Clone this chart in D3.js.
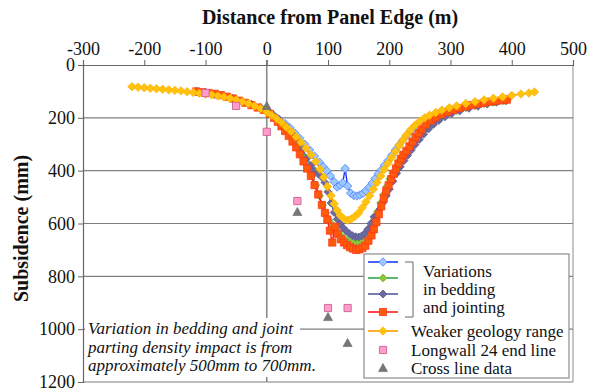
<!DOCTYPE html>
<html>
<head>
<meta charset="utf-8">
<script src="https://cdn.jsdelivr.net/npm/d3@7"></script>
<style>
  body { margin: 0; background: #fff; }
  text { font-family: "Liberation Serif", "Times New Roman", serif; fill: #111; }
</style>
</head>
<body>
<svg id="chart" width="598" height="388"></svg>
<script>
// ---- data (x = distance from panel edge m, y = subsidence mm) ----
const xTicks = [-300, -200, -100, 0, 100, 200, 300, 400, 500];
const yTicks = [0, 200, 400, 600, 800, 1000, 1200];

const blueSeries = [[-115,100],[-100,106],[-85,112],[-70,120],[-55,129],[-40,139],[-25,150],[-10,163],[0,172],[10,188],[20,205],[30,222],[38,238],[46,258],[54,278],[62,300],[70,322],[78,345],[86,368],[92,385],[98,400],[104,420],[110,442],[115,462],[120,455],[124,446],[128,392],[132,458],[137,485],[142,494],[147,496],[152,492],[157,486],[162,476],[167,463],[172,447],[177,430],[182,412],[187,397],[192,380],[198,362],[204,342],[210,322],[216,303],[222,285],[228,268],[235,250],[242,233],[250,217],[258,204],[266,193],[276,183],[286,174],[298,166],[310,159],[325,151],[340,145],[355,140],[370,136],[385,132],[392,130]];

const greenSeries = [[-115,100],[-100,105],[-85,110],[-70,118],[-55,127],[-40,137],[-25,149],[-10,162],[0,173],[10,190],[20,212],[30,240],[40,272],[50,310],[58,345],[66,382],[74,420],[80,455],[86,495],[91,530],[96,562],[101,585],[106,602],[111,617],[116,631],[121,645],[126,656],[131,664],[136,669],[141,672],[146,673],[151,670],[156,664],[161,652],[166,635],[171,612],[176,585],[181,555],[186,522],[191,490],[196,460],[201,432],[206,408],[211,386],[216,365],[221,348],[227,330],[233,312],[239,295],[245,278],[252,260],[260,240],[268,222],[277,206],[287,193],[298,182],[310,172],[325,162],[340,154],[355,147],[370,141],[385,136],[392,134]];

const slateSeries = [[-115,100],[-100,105],[-85,110],[-70,118],[-55,127],[-40,137],[-25,149],[-10,161],[0,172],[10,188],[20,207],[30,230],[40,257],[50,288],[58,318],[66,352],[72,380],[78,400],[84,412],[90,425],[95,445],[100,480],[105,522],[110,558],[115,584],[120,602],[125,617],[130,629],[135,639],[140,646],[145,650],[150,651],[155,647],[160,638],[165,622],[170,600],[175,575],[180,570],[185,545],[190,520],[195,495],[200,470],[206,440],[212,410],[218,385],[224,362],[230,342],[236,322],[242,302],[249,282],[256,262],[264,242],[272,225],[281,210],[291,196],[302,184],[315,174],[330,164],[345,156],[360,148],[375,141],[390,135]];

const redSeries = [[-115,100],[-105,103],[-95,106],[-85,109],[-75,114],[-65,120],[-55,127],[-45,135],[-35,143],[-25,152],[-15,161],[-5,170],[5,185],[12,200],[18,215],[24,232],[30,250],[36,268],[42,290],[48,312],[54,338],[60,365],[66,392],[72,420],[78,455],[84,490],[90,530],[95,560],[99,585],[103,627],[107,672],[111,612],[116,640],[121,660],[126,672],[131,682],[136,690],[141,695],[146,700],[151,698],[156,693],[161,684],[166,665],[171,645],[175,622],[179,595],[183,565],[187,535],[191,505],[195,477],[199,455],[203,432],[207,412],[211,392],[215,373],[219,355],[223,340],[228,325],[233,308],[238,290],[243,273],[248,258],[253,243],[260,225],[268,210],[276,198],[285,187],[295,178],[305,170],[315,163],[325,157],[335,152],[345,147],[355,143],[365,139],[375,136],[385,133],[392,131]];

const weakerSeries = [[-220,82],[-210,84],[-200,86],[-190,88],[-180,90],[-170,92],[-160,94],[-150,96],[-140,98],[-130,101],[-120,104],[-110,107],[-100,110],[-90,113],[-80,117],[-70,121],[-60,126],[-50,132],[-40,139],[-30,146],[-20,155],[-10,165],[0,178],[8,190],[16,203],[24,218],[32,235],[40,252],[48,272],[56,293],[64,315],[72,340],[80,365],[87,395],[93,425],[99,460],[105,495],[110,525],[115,550],[120,570],[126,582],[132,587],[138,583],[144,573],[150,560],[156,540],[162,518],[168,495],[174,470],[180,445],[186,420],[192,395],[198,372],[204,350],[210,328],[216,305],[222,285],[228,265],[235,245],[242,228],[250,212],[258,200],[266,190],[276,180],[286,171],[298,162],[310,155],[325,146],[340,139],[355,132],[370,126],[385,121],[400,115],[415,110],[428,106],[437,102]];

const longwallPoints = [[-100,106],[-50,155],[0,253],[50,515],[100,920],[132,920]];
const crossLinePoints = [[0,155],[50,556],[100,954],[132,1052]];

const noteLines = ["Variation in bedding and joint", "parting density impact is from", "approximately 500mm to 700mm."];

const serif = '"Liberation Serif", "Times New Roman", serif';

// ---- layout ----
const svg = d3.select("#chart");
const x = d3.scaleLinear().domain([-300, 500]).range([83, 573]);
const y = d3.scaleLinear().domain([0, 1200]).range([65, 382]);

// horizontal gridlines
svg.append("g").selectAll("line")
  .data(yTicks.slice(1))
  .enter().append("line")
  .attr("x1", x(-300)).attr("x2", x(500))
  .attr("y1", d => y(d)).attr("y2", d => y(d))
  .attr("stroke", "#7f7f7f").attr("stroke-width", 1.2);

// right border + vertical line at panel edge
svg.append("line")
  .attr("x1", x(500)).attr("x2", x(500)).attr("y1", y(0)).attr("y2", y(1200))
  .attr("stroke", "#8c8c8c").attr("stroke-width", 1);
svg.append("line")
  .attr("x1", x(0)).attr("x2", x(0)).attr("y1", y(0) - 5).attr("y2", y(1200))
  .attr("stroke", "#8a8a8a").attr("stroke-width", 1.6);

// top axis
const topAxis = svg.append("g")
  .attr("transform", `translate(0,${y(0)})`)
  .call(d3.axisTop(x).tickValues(xTicks).tickSize(5).tickPadding(5).tickFormat(d => String(d)));
topAxis.attr("font-family", serif);
topAxis.select(".domain").attr("stroke", "#666").attr("stroke-width", 1.2);
topAxis.selectAll(".tick line").attr("stroke", "#666");
topAxis.selectAll("text").style("font-size", "18px").style("font-family", serif).attr("fill", "#111");

// left axis
const leftAxis = svg.append("g")
  .attr("transform", `translate(${x(-300)},0)`)
  .call(d3.axisLeft(y).tickValues(yTicks).tickSize(5).tickPadding(3).tickFormat(d => String(d)));
leftAxis.attr("font-family", serif);
leftAxis.select(".domain").attr("stroke", "#666").attr("stroke-width", 1.2);
leftAxis.selectAll(".tick line").attr("stroke", "#666");
leftAxis.selectAll("text").style("font-size", "18px").style("font-family", serif).attr("fill", "#111");

// titles
svg.append("text")
  .attr("x", 330).attr("y", 24)
  .attr("text-anchor", "middle")
  .style("font-family", serif)
  .style("font-size", "20px").style("font-weight", "bold")
  .text("Distance from Panel Edge (m)");
svg.append("text")
  .attr("transform", `translate(28,${(y(0) + y(1200)) / 2 + 5}) rotate(-90)`)
  .attr("text-anchor", "middle")
  .style("font-family", serif)
  .style("font-size", "20px").style("font-weight", "bold")
  .text("Subsidence (mm)");

// note box
svg.append("rect")
  .attr("x", 85).attr("y", 318).attr("width", 215).attr("height", 59)
  .attr("fill", "#fff");
svg.append("g").selectAll("text")
  .data(noteLines)
  .enter().append("text")
  .attr("x", 88).attr("y", (d, i) => 334 + i * 18.5)
  .style("font-family", serif)
  .style("font-size", "17px").style("font-style", "italic")
  .text(d => d);

// ---- series ----
const diamond = r => `M0,${-r}L${r},0L0,${r}L${-r},0Z`;
const square = r => `M${-r},${-r}H${r}V${r}H${-r}Z`;
const triangle = r => `M0,${-r}L${r},${r * 0.8}L${-r},${r * 0.8}Z`;

const seriesDefs = [
  { data: blueSeries, line: "#1a3cff", fill: "#9cc8ff", stroke: "#4d7dff", shape: diamond, r: 4.2 },
  { data: greenSeries, line: "#2ea84a", fill: "#8cc63e", stroke: "#7ab52e", shape: diamond, r: 4 },
  { data: slateSeries, line: "#5a5a9a", fill: "#6a6aa0", stroke: "#5c5c92", shape: diamond, r: 4 },
  { data: redSeries, line: "#ff1a1a", fill: "#ff5a0a", stroke: "#ff3a1a", shape: square, r: 3.6 },
  { data: weakerSeries, line: "#ff9a00", fill: "#ffc20e", stroke: "#ffb400", shape: diamond, r: 4.2 }
];

const lineGen = d3.line().x(d => x(d[0])).y(d => y(d[1]));

seriesDefs.forEach(s => {
  const g = svg.append("g");
  g.append("path")
    .attr("d", lineGen(s.data))
    .attr("fill", "none")
    .attr("stroke", s.line)
    .attr("stroke-width", 1.4);
  g.selectAll("path.mk")
    .data(s.data)
    .enter().append("path")
    .attr("class", "mk")
    .attr("transform", d => `translate(${x(d[0])},${y(d[1])})`)
    .attr("d", s.shape(s.r))
    .attr("fill", s.fill)
    .attr("stroke", s.stroke)
    .attr("stroke-width", 0.8);
});

svg.append("g").selectAll("path")
  .data(longwallPoints)
  .enter().append("path")
  .attr("transform", d => `translate(${x(d[0])},${y(d[1])})`)
  .attr("d", square(3.6))
  .attr("fill", "#ff9ccc").attr("stroke", "#d06a9a").attr("stroke-width", 1);

svg.append("g").selectAll("path")
  .data(crossLinePoints)
  .enter().append("path")
  .attr("transform", d => `translate(${x(d[0])},${y(d[1])})`)
  .attr("d", triangle(4.5))
  .attr("fill", "#777").attr("stroke", "#666").attr("stroke-width", 0.6);

// ---- legend ----
const legend = svg.append("g");
legend.append("rect")
  .attr("x", 364).attr("y", 254).attr("width", 205).attr("height", 124)
  .attr("fill", "#fff").attr("stroke", "#8c8c8c").attr("stroke-width", 1.2);

const legendRows = [
  { s: seriesDefs[0], cy: 262 },
  { s: seriesDefs[1], cy: 278 },
  { s: seriesDefs[2], cy: 294 },
  { s: seriesDefs[3], cy: 312 },
  { s: seriesDefs[4], cy: 331 }
];
legendRows.forEach(r => {
  legend.append("line")
    .attr("x1", 368).attr("x2", 398).attr("y1", r.cy).attr("y2", r.cy)
    .attr("stroke", r.s.line).attr("stroke-width", 1.6);
  legend.append("path")
    .attr("transform", `translate(383,${r.cy})`)
    .attr("d", r.s.shape(r.s.r))
    .attr("fill", r.s.fill).attr("stroke", r.s.stroke).attr("stroke-width", 0.8);
});
legend.append("path")
  .attr("transform", "translate(383,350)")
  .attr("d", square(3.6))
  .attr("fill", "#ff9ccc").attr("stroke", "#d06a9a");
legend.append("path")
  .attr("transform", "translate(383,368)")
  .attr("d", triangle(4.5))
  .attr("fill", "#777").attr("stroke", "#666").attr("stroke-width", 0.6);

// bracket
legend.append("path")
  .attr("d", "M405,262H413V317H405")
  .attr("fill", "none").attr("stroke", "#666").attr("stroke-width", 1);

const legendText = [
  { t: "Variations", x: 423, y: 277 },
  { t: "in bedding", x: 423, y: 295 },
  { t: "and jointing", x: 423, y: 313 },
  { t: "Weaker geology range", x: 411, y: 337 },
  { t: "Longwall 24 end line", x: 411, y: 356 },
  { t: "Cross line data", x: 411, y: 374 }
];
legend.selectAll("text.lg")
  .data(legendText)
  .enter().append("text")
  .attr("class", "lg")
  .attr("x", d => d.x).attr("y", d => d.y)
  .style("font-family", serif)
  .style("font-size", "17px")
  .text(d => d.t);
</script>
</body>
</html>
